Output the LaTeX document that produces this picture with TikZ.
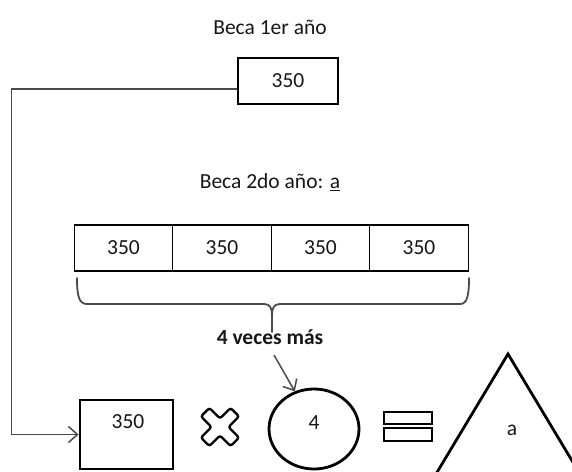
\documentclass[tikz,border=0pt]{standalone}
\usepackage{fontspec}
\setmainfont{Carlito}
\usetikzlibrary{arrows.meta,shapes.geometric,calc}
\definecolor{ink}{HTML}{161616}
\definecolor{wire}{HTML}{4A4A4A}
\tikzset{
  txt/.style={text=ink, font=\fontsize{21.5}{25}\selectfont, inner sep=0pt},
  cell/.style={draw=black, line width=1.3pt, minimum width=98.5pt, minimum height=46pt,
    inner sep=0pt, txt},
  heavy/.style={draw=black, line width=2.8pt},
  conn/.style={draw=wire, line width=1.5pt},
  barb/.style={-{Straight Barb[length=9pt,width=16pt,line width=1.5pt]}},
  bracepath/.style={draw=wire, line width=1.8pt, line cap=round, line join=round},
}
\begin{document}
\begin{tikzpicture}[x=1pt,y=-1pt]
  \useasboundingbox (0,0) rectangle (572,471);
  \clip (0,0) rectangle (572,471);

  % first year
  \node[txt] (t1) at (270,27) {Beca 1er año};
  \node[cell, minimum width=100pt] (b1) at (288,81) {350};

  % second year: four cells side by side
  \node[txt] (t2) at (270,182) {Beca 2do año: \underline{a}};
  \node[cell] (r1) at (123.5,248) {350};
  \node[cell] (r2) at (222,248) {350};
  \node[cell] (r3) at (320.5,248) {350};
  \node[cell] (r4) at (419,248) {350};

  % brace under the row
  \coordinate (bl) at (77,278);
  \coordinate (br) at (469,278);
  \coordinate (bt) at (272,332);
  \draw[bracepath] (bl) .. controls (77,296) and (79,304) .. (87,304)
    -- (264,304) .. controls (270,304) and (272,308) .. (272,315) -- (bt);
  \draw[bracepath] (272,315) .. controls (272,308) and (274,304) .. (280,304)
    -- (460,304) .. controls (467,304) and (469,296) .. (br);
  \node[txt, font=\fontsize{21.5}{25}\selectfont\bfseries] (t3) at (270,337) {4 veces más};

  % equation: 350 x 4 = a
  \node[heavy, minimum width=93pt, minimum height=69pt, inner sep=0pt] (b2) at (126.5,434.5) {};
  \node[txt] (n2) at (128,422) {350};

  \begin{scope}[shift={(220,427)}, rotate=45]
    \draw[line width=2.4pt, rounded corners=2.5pt]
      (6,6) -- (6,21) -- (-6,21) -- (-6,6) -- (-21,6) -- (-21,-6) -- (-6,-6)
      -- (-6,-21) -- (6,-21) -- (6,-6) -- (21,-6) -- (21,6) -- cycle;
  \end{scope}

  \node[heavy, ellipse, minimum width=90pt, minimum height=80pt, inner sep=0pt] (c4) at (314,429) {};
  \node[txt] (n4) at (314,423) {4};

  \draw[line width=2.6pt] (384,412) rectangle (432,424);
  \draw[line width=2.6pt] (384,428) rectangle (432,441);

  \coordinate (apex) at (508,354);
  \draw[line width=2.8pt, line join=miter] (430,484) -- (apex) -- (586,484);
  \node[txt] (na) at (512,430) {a};

  % connectors
  \draw[conn, barb] ([yshift=-8pt]b1.west) -- ++(-226,0) |- (b2.west);
  \coordinate (a1) at (274,355);
  \draw[conn, barb] (a1) -- (c4.117);
\end{tikzpicture}
\end{document}
